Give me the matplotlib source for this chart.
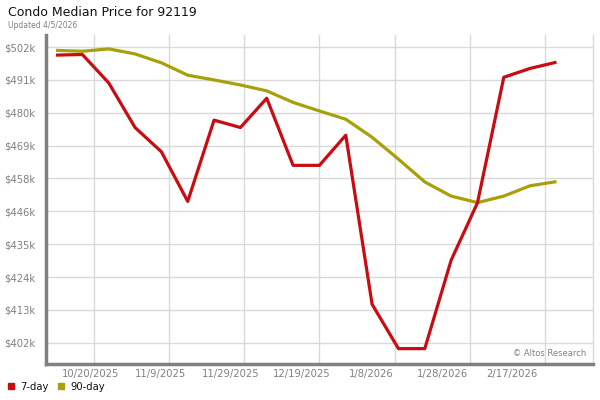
import numpy as np
import pandas as pd
import matplotlib
matplotlib.use("Agg")
import matplotlib.pyplot as plt
import matplotlib.dates as mdates
from matplotlib.patches import Rectangle

# ── Data ─────────────────────────────────────────────────────────────────
DATES = pd.date_range("2025-10-10", periods=20, freq="7D")

PRICE_7DAY = [499300, 499500, 489900, 474800, 466600, 449800, 477300, 474800,
              484700, 462000, 462000, 472200, 415000, 400000, 400000, 429900,
              449300, 491800, 494800, 496900]

PRICE_90DAY = [500900, 500600, 501400, 499700, 496700, 492500, 490900, 489200,
               487200, 483300, 480400, 477600, 471500, 464100, 456400, 451600,
               449400, 451600, 455100, 456500]

Y_TICKS  = np.linspace(402000, 502000, 10)
Y_LABELS = ["$402k", "$413k", "$424k", "$435k", "$446k",
            "$458k", "$469k", "$480k", "$491k", "$502k"]

GRID_DATES = pd.date_range("2025-10-20", periods=7, freq="20D")
X_LABELS   = ["10/20/2025", "11/9/2025", "11/29/2025", "12/19/2025",
              "1/8/2026", "1/28/2026", "2/17/2026"]

TITLE   = "Condo Median Price for 92119"
UPDATED = "Updated 4/5/2026"

RED   = "#c80c12"
OLIVE = "#a8a00a"
GREY  = "#808080"
# ─────────────────────────────────────────────────────────────────────────

fig = plt.figure(figsize=(6, 4), dpi=100)
ax = fig.add_axes([0.0767, 0.09, 0.9116, 0.8225])

ax.plot(DATES, PRICE_90DAY, color=OLIVE, linewidth=2.3, solid_capstyle="butt", zorder=3)
ax.plot(DATES, PRICE_7DAY, color=RED, linewidth=2.3, solid_capstyle="butt", zorder=4)

ax.set_xlim(DATES[0] - pd.Timedelta(days=2.66), DATES[0] + pd.Timedelta(days=142.7))
ax.set_ylim(394800, 506100)

# y axis
ax.set_yticks(Y_TICKS)
ax.set_yticklabels(Y_LABELS)
ax.tick_params(axis="y", length=0, pad=8, labelsize=7.2, labelcolor=GREY)

# x axis: gridlines every 20 days, labels laid out evenly (as in the original)
ax.set_xticks(GRID_DATES)
ax.set_xticklabels([])
ax.tick_params(axis="x", length=0)
for i, lab in enumerate(X_LABELS):
    ax.text(0.0815 + 0.1285 * i, -0.03, lab, transform=ax.transAxes,
            ha="center", va="center", fontsize=7.2, color=GREY)

ax.grid(True, color="#d9d9d9", linewidth=1.0, zorder=0)

ax.spines["top"].set_visible(False)
ax.spines["right"].set_color("#d9d9d9")
ax.spines["right"].set_linewidth(1.0)
ax.spines["left"].set_color(GREY)
ax.spines["left"].set_linewidth(2.5)
ax.spines["bottom"].set_color(GREY)
ax.spines["bottom"].set_linewidth(2.5)

ax.text(0.987, 0.032, "© Altos Research", transform=ax.transAxes,
        ha="right", va="center", fontsize=6, color=GREY)

# title
fig.text(8 / 600, 1 - 12 / 400, TITLE, ha="left", va="center", fontsize=9, color="#111111")
fig.text(8 / 600, 1 - 25 / 400, UPDATED, ha="left", va="center", fontsize=5.5, color=GREY)

# legend
for x0, col, lab in [(8, RED, "7-day"), (58, OLIVE, "90-day")]:
    fig.patches.append(Rectangle((x0 / 600, 1 - 389 / 400), 6 / 600, 6 / 400,
                                 transform=fig.transFigure, color=col))
    fig.text((x0 + 12) / 600, 1 - 386.5 / 400, lab, ha="left", va="center",
             fontsize=7.2, color="#111111")

fig.savefig("out.png", dpi=100)
